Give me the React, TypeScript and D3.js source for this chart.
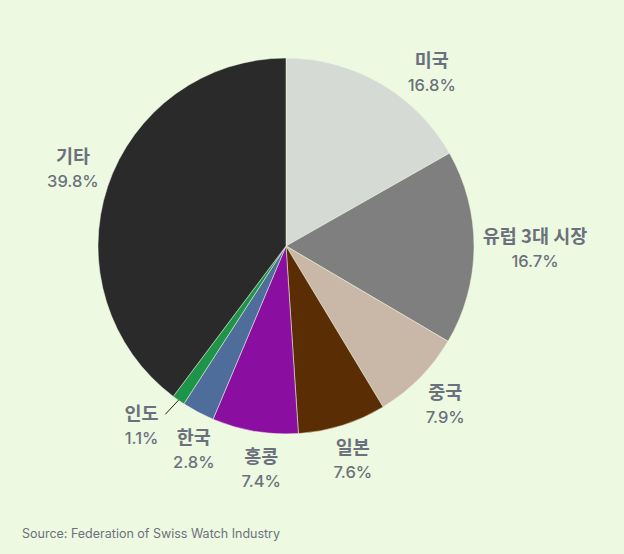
import React, { useEffect, useRef } from 'react';
import * as d3 from 'd3';

const markets = ['미국', '유럽 3대 시장', '중국', '일본', '홍콩', '한국', '인도', '기타'];
const shares = [16.8, 16.7, 7.9, 7.6, 7.4, 2.8, 1.1, 39.8];
const colors = ['#d6dad5', '#7f7f7f', '#c9b8a7', '#5b2d04', '#8a0ea0', '#4f6d9b', '#1d9447', '#2a2a2a'];

const WIDTH = 624;
const HEIGHT = 554;
const BG = '#eef9e1';
const TEXT = '#6b717c';
const NAME_FONT = '"Noto Sans CJK KR", "Noto Sans", sans-serif';
const NUM_FONT = 'Inter, "Noto Sans", sans-serif';

// angle nudges (radians) where the original layout moved a label off its slice middle
const angleNudge: Record<string, number> = { '미국': 0.17, '홍콩': -0.055, '한국': -0.06, '인도': 0.07, '기타': 0.03 };

type Row = { name: string; value: number; color: string };

function App() {
  const svgRef = useRef<SVGSVGElement>(null);

  useEffect(() => {
    document.body.style.margin = '0';
    document.body.style.background = BG;

    const svg = d3.select(svgRef.current);
    svg.selectAll('*').remove();

    const cx = 286;
    const cy = 246;
    const radius = 188;
    const labelRadius = 223;
    const clearance = 196;

    const rows: Row[] = markets.map((name, i) => ({ name, value: shares[i], color: colors[i] }));

    const pie = d3
      .pie<Row>()
      .value(d => d.value)
      .sort(null);

    const arcGen = d3.arc<d3.PieArcDatum<Row>>().innerRadius(0).outerRadius(radius);

    const arcs = pie(rows);

    svg.append('rect').attr('width', WIDTH).attr('height', HEIGHT).attr('fill', BG);

    const g = svg.append('g').attr('transform', `translate(${cx}, ${cy})`);

    g.selectAll('path.slice')
      .data(arcs)
      .join('path')
      .attr('class', 'slice')
      .attr('d', arcGen)
      .attr('fill', d => d.data.color)
      .attr('stroke', BG)
      .attr('stroke-width', 0.5);

    const labels = g.append('g').attr('text-anchor', 'middle');

    arcs.forEach(d => {
      const small = d.data.value < 2;
      const a = (d.startAngle + d.endAngle) / 2 + (angleNudge[d.data.name] || 0);
      const ux = Math.sin(a);
      const uy = -Math.cos(a);

      const block = labels.append('g');
      const nameText = block
        .append('text')
        .attr('font-family', NAME_FONT)
        .attr('font-size', 18.5)
        .attr('font-weight', 700)
        .attr('fill', TEXT)
        .attr('y', -5)
        .text(d.data.name);
      const pctText = block
        .append('text')
        .attr('font-family', NUM_FONT)
        .attr('font-size', 16.5)
        .attr('font-weight', 500)
        .attr('fill', TEXT)
        .attr('y', 19)
        .text(`${d.data.value}%`);

      const w = Math.max(
        (nameText.node() as SVGTextElement).getComputedTextLength(),
        (pctText.node() as SVGTextElement).getComputedTextLength()
      );
      const h = 40;

      // push label out until its box clears the pie
      let r = small ? labelRadius + 7 : labelRadius;
      const gap = (x: number, y: number) => {
        const nx = Math.max(x - w / 2, Math.min(0, x + w / 2));
        const ny = Math.max(y - h / 2, Math.min(0, y + h / 2));
        return Math.hypot(nx, ny);
      };
      while (gap(ux * r, uy * r) < clearance && r < 400) r += 1;

      block.attr('transform', `translate(${ux * r}, ${uy * r})`);

      if (small) {
        const m = (d.startAngle + d.endAngle) / 2;
        g.append('line')
          .attr('x1', Math.sin(m) * radius)
          .attr('y1', -Math.cos(m) * radius)
          .attr('x2', Math.sin(m) * (radius + 16) - 4)
          .attr('y2', -Math.cos(m) * (radius + 16) + 1)
          .attr('stroke', '#222')
          .attr('stroke-width', 1);
      }
    });

    svg
      .append('text')
      .attr('x', 22)
      .attr('y', 538)
      .attr('font-family', NUM_FONT)
      .attr('font-size', 12.5)
      .attr('fill', TEXT)
      .text('Source: Federation of Swiss Watch Industry');
  }, []);

  return (
    <div style={{ width: WIDTH, height: HEIGHT }}>
      <svg ref={svgRef} width={WIDTH} height={HEIGHT} style={{ display: 'block' }}></svg>
    </div>
  );
}

export default App;
